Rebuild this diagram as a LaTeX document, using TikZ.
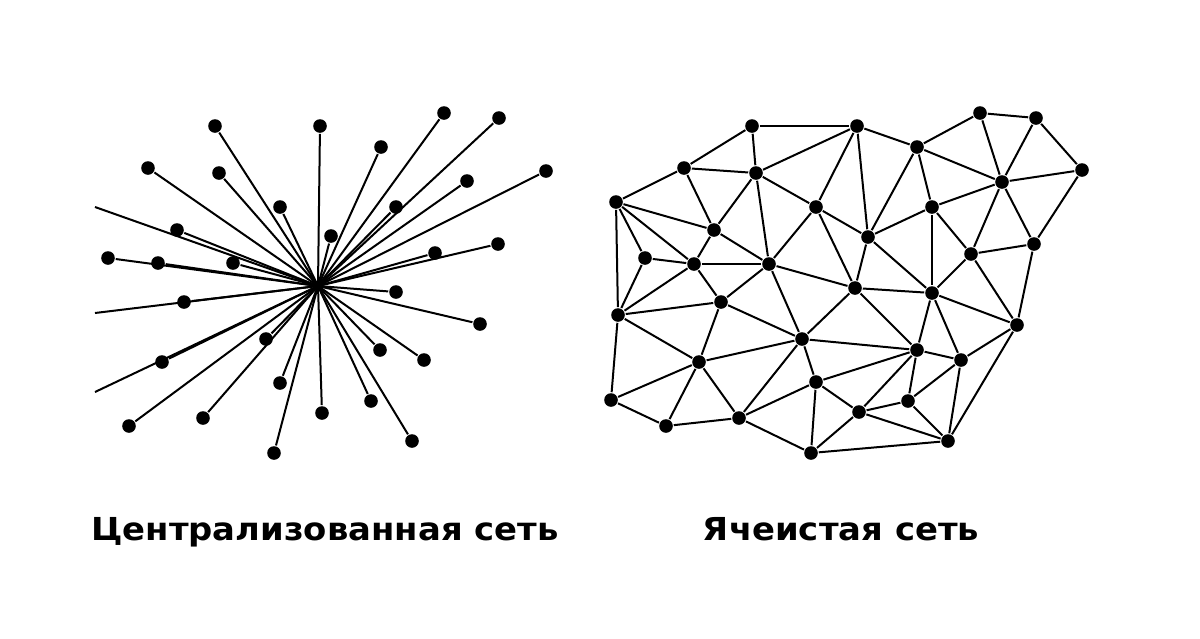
\documentclass[tikz,border=0pt]{standalone}
\usepackage{fontspec}
\setmainfont{DejaVu Sans}

\begin{document}
\begin{tikzpicture}[x=0.25mm, y=-0.25mm, line width=0.5mm]
	\tikzstyle{netnode} = [circle, fill=black, inner sep=0pt, minimum size=3.4mm];
	\tikzstyle{netcaption} = [anchor=base, inner sep=0pt, font=\fontsize{22.5}{27}\selectfont\bfseries];
	\useasboundingbox (0,0) rectangle (1200,638);

	% centralised network
	\coordinate (hub) at (318,286);
	\coordinate (e1) at (95,207);
	\coordinate (e2) at (95,313);
	\coordinate (e3) at (95,392);
	\node[netnode] (s1) at (215,126) {};
	\node[netnode] (s2) at (320,126) {};
	\node[netnode] (s3) at (148,168) {};
	\node[netnode] (s4) at (219,173) {};
	\node[netnode] (s5) at (280,207) {};
	\node[netnode] (s6) at (177,230) {};
	\node[netnode] (s7) at (108,258) {};
	\node[netnode] (s8) at (158,263) {};
	\node[netnode] (s9) at (233,263) {};
	\node[netnode] (s10) at (184,302) {};
	\node[netnode] (s11) at (266,339) {};
	\node[netnode] (s12) at (162,362) {};
	\node[netnode] (s13) at (129,426) {};
	\node[netnode] (s14) at (203,418) {};
	\node[netnode] (s15) at (280,383) {};
	\node[netnode] (s16) at (274,453) {};
	\node[netnode] (s17) at (322,413) {};
	\node[netnode] (s18) at (371,401) {};
	\node[netnode] (s19) at (412,441) {};
	\node[netnode] (s20) at (380,350) {};
	\node[netnode] (s21) at (424,360) {};
	\node[netnode] (s22) at (480,324) {};
	\node[netnode] (s23) at (396,292) {};
	\node[netnode] (s24) at (331,236) {};
	\node[netnode] (s25) at (381,147) {};
	\node[netnode] (s26) at (444,113) {};
	\node[netnode] (s27) at (499,118) {};
	\node[netnode] (s28) at (467,181) {};
	\node[netnode] (s29) at (396,207) {};
	\node[netnode] (s30) at (546,171) {};
	\node[netnode] (s31) at (435,253) {};
	\node[netnode] (s32) at (498,244) {};
	\draw (hub) edge (e1) edge (e2) edge (e3);
	\draw (hub) edge (s1) edge (s2) edge (s3) edge (s4) edge (s5) edge (s6) edge (s7) edge (s8);
	\draw (hub) edge (s9) edge (s10) edge (s11) edge (s12) edge (s13) edge (s14) edge (s15) edge (s16);
	\draw (hub) edge (s17) edge (s18) edge (s19) edge (s20) edge (s21) edge (s22) edge (s23) edge (s24);
	\draw (hub) edge (s25) edge (s26) edge (s27) edge (s28) edge (s29) edge (s30) edge (s31) edge (s32);

	% mesh network
	\node[netnode] (a1) at (752,126) {};
	\node[netnode] (a2) at (857,126) {};
	\node[netnode] (a3) at (684,168) {};
	\node[netnode] (a4) at (756,173) {};
	\node[netnode] (a5) at (616,202) {};
	\node[netnode] (a6) at (816,207) {};
	\node[netnode] (a7) at (714,230) {};
	\node[netnode] (a8) at (645,258) {};
	\node[netnode] (a9) at (694,264) {};
	\node[netnode] (a10) at (769,264) {};
	\node[netnode] (b1) at (917,147) {};
	\node[netnode] (b2) at (980,113) {};
	\node[netnode] (b3) at (1036,118) {};
	\node[netnode] (b4) at (1082,170) {};
	\node[netnode] (b5) at (1002,182) {};
	\node[netnode] (b6) at (932,207) {};
	\node[netnode] (b7) at (868,237) {};
	\node[netnode] (b8) at (971,254) {};
	\node[netnode] (b9) at (1034,244) {};
	\node[netnode] (c1) at (855,288) {};
	\node[netnode] (c2) at (932,293) {};
	\node[netnode] (c3) at (1017,325) {};
	\node[netnode] (c4) at (917,350) {};
	\node[netnode] (c5) at (961,360) {};
	\node[netnode] (c6) at (908,401) {};
	\node[netnode] (c7) at (859,412) {};
	\node[netnode] (c8) at (948,441) {};
	\node[netnode] (d1) at (618,315) {};
	\node[netnode] (d2) at (721,302) {};
	\node[netnode] (d3) at (802,339) {};
	\node[netnode] (d4) at (699,362) {};
	\node[netnode] (d5) at (611,400) {};
	\node[netnode] (d6) at (666,426) {};
	\node[netnode] (d7) at (739,418) {};
	\node[netnode] (d8) at (816,382) {};
	\node[netnode] (d9) at (811,453) {};
	\draw (a1) edge (a2) edge (a3) edge (a4);
	\draw (a2) edge (a4) edge (a6) edge (b1) edge (b7);
	\draw (a3) edge (a4) edge (a5) edge (a7);
	\draw (a4) edge (a7) edge (a6) edge (a10);
	\draw (a5) edge (a7) edge (a8) edge (a9) edge (d1);
	\draw (a6) edge (a10) edge (b7) edge (c1);
	\draw (a7) edge (a9) edge (a10);
	\draw (a8) edge (a9) edge (d1);
	\draw (a9) edge (a10) edge (d1) edge (d2);
	\draw (a10) edge (d2) edge (d3) edge (c1);
	\draw (b1) edge (b2) edge (b5) edge (b6) edge (b7);
	\draw (b2) edge (b3) edge (b5);
	\draw (b3) edge (b4) edge (b5);
	\draw (b4) edge (b5) edge (b9);
	\draw (b5) edge (b6) edge (b8) edge (b9);
	\draw (b6) edge (b7) edge (b8) edge (c2);
	\draw (b7) edge (c1) edge (c2);
	\draw (b8) edge (b9) edge (c2) edge (c3);
	\draw (b9) edge (c3);
	\draw (c1) edge (c2) edge (c4) edge (d3);
	\draw (c2) edge (c3) edge (c4) edge (c5);
	\draw (c3) edge (c5) edge (c8);
	\draw (c4) edge (c5) edge (c6) edge (c7) edge (d3) edge (d8);
	\draw (c5) edge (c6) edge (c8);
	\draw (c6) edge (c7) edge (c8);
	\draw (c7) edge (c8) edge (d8) edge (d9);
	\draw (d1) edge (d2) edge (d4) edge (d5);
	\draw (d2) edge (d3) edge (d4);
	\draw (d3) edge (d4) edge (d7) edge (d8);
	\draw (d4) edge (d5) edge (d6) edge (d7);
	\draw (d5) edge (d6);
	\draw (d6) edge (d7);
	\draw (d7) edge (d8) edge (d9);
	\draw (d8) edge (d9);
	\draw (d9) edge (c8);

	% captions
	\node[netcaption] (capstar) at (325,540) {\scalebox{1.07}[1]{Централизованная сеть}};
	\node[netcaption] (capmesh) at (841,540) {\scalebox{1.07}[1]{Ячеистая сеть}};
\end{tikzpicture}
\end{document}
